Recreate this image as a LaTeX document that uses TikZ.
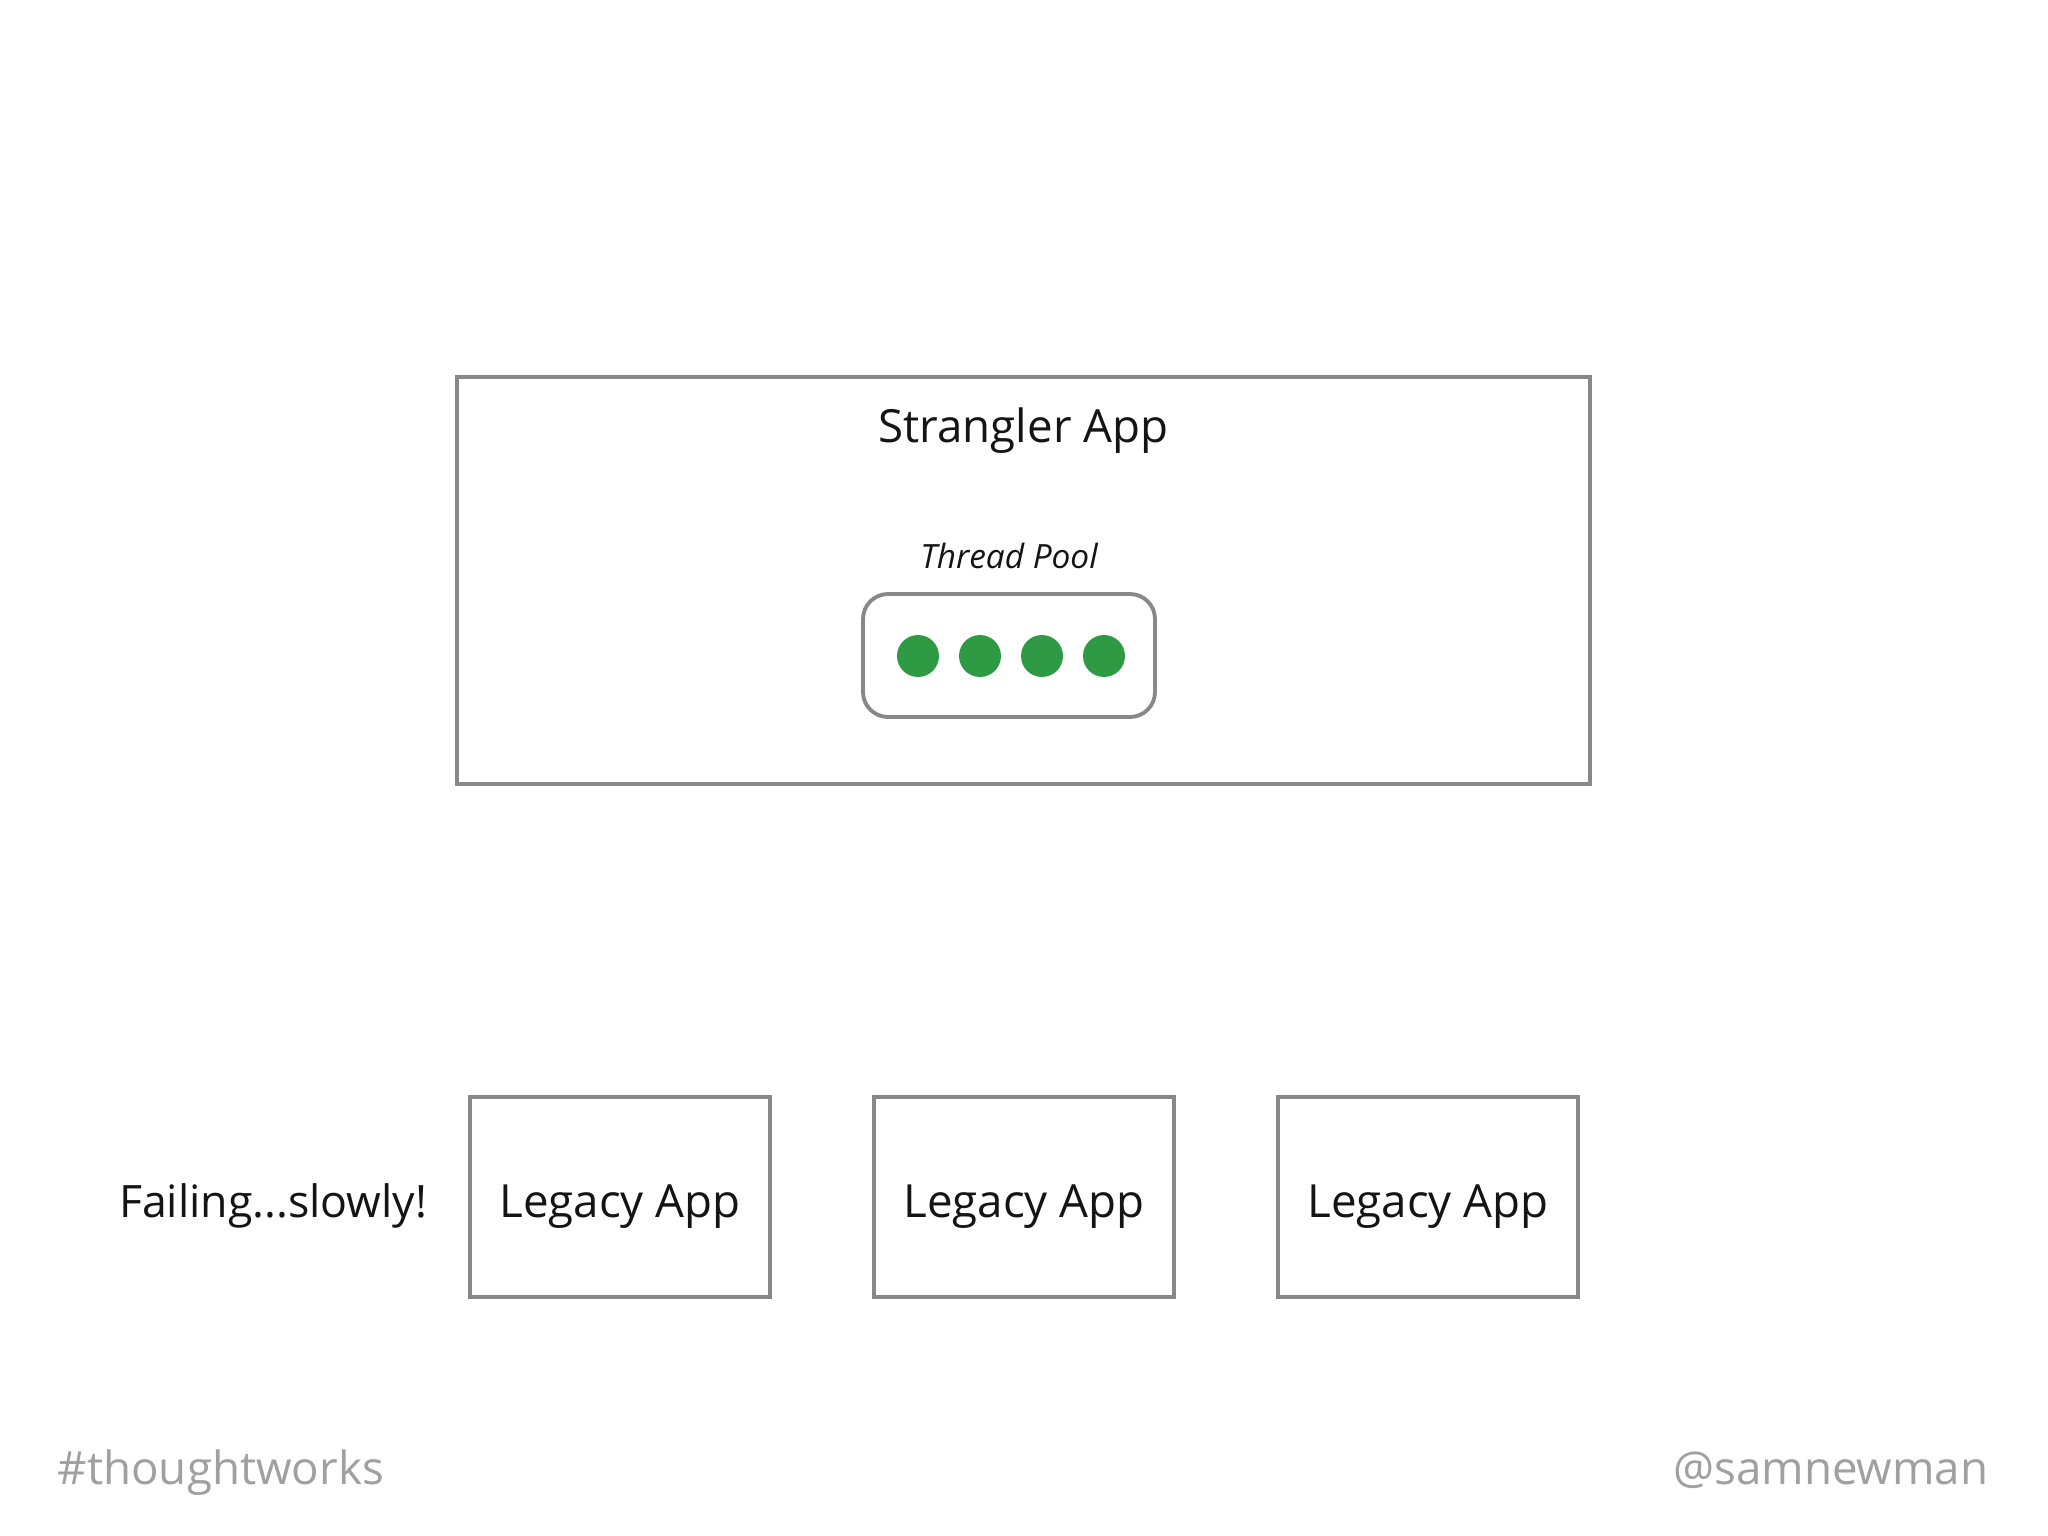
\documentclass[tikz,border=0pt]{standalone}
\usepackage{fontspec}
\setmainfont{Open Sans}
\usetikzlibrary{positioning}
\definecolor{boxgray}{RGB}{136,136,136}
\definecolor{footgray}{RGB}{160,160,160}
\definecolor{poolgreen}{RGB}{46,154,68}
\definecolor{inkblack}{RGB}{20,20,20}

\begin{document}
\begin{tikzpicture}[align=center,node distance=1cm]
\tikzstyle{app}=[rectangle,draw=boxgray,line width=1.1pt,inner sep=0pt,outer sep=0pt]
\tikzstyle{legacy}=[app,minimum width=3.0cm,minimum height=2cm,text=inkblack,font=\fontsize{13}{15}\selectfont,text height=11.4pt,text depth=0pt]
\tikzstyle{thread}=[circle,fill=poolgreen,minimum size=0.42cm,inner sep=0pt,outer sep=0pt]
\tikzstyle{slidetext}=[inner sep=0pt,text=inkblack,font=\fontsize{13}{15}\selectfont]

\fill[white] (0,0) rectangle (20.48,-15.36);
\useasboundingbox (0,0) rectangle (20.48,-15.36);

\node[app,minimum width=11.33cm,minimum height=4.07cm] (strangler) at (10.235,-5.805) {};
\node[slidetext] (stranglertitle) [below=0.3cm of strangler.north] {Strangler App};

\node[app,rounded corners=0.25cm,minimum width=2.92cm,minimum height=1.23cm] (pool) at (10.09,-6.555) {};
\node[slidetext,font=\fontsize{9.5}{11}\selectfont\itshape] (pooltitle) [above=0.24cm of pool] {Thread Pool};
\node[thread] (t1) at (9.18,-6.56) {};
\node[thread] (t2) [right=0.2cm of t1] {};
\node[thread] (t3) [right=0.2cm of t2] {};
\node[thread] (t4) [right=0.2cm of t3] {};

\node[legacy] (legacy1) at (6.2,-11.97) {Legacy App};
\node[legacy] (legacy2) [right=1.04cm of legacy1] {Legacy App};
\node[legacy] (legacy3) [right=1.04cm of legacy2] {Legacy App};
\node[slidetext,font=\fontsize{12.7}{15}\selectfont,text height=11.4pt,text depth=0pt] (failing) [left=0.42cm of legacy1] {Failing...slowly!};

\node[slidetext,text=footgray,anchor=base west] (hashtag) at (0.57,-14.84) {\#thoughtworks};
\node[slidetext,text=footgray,anchor=base east] (handle) at (19.89,-14.84) {@samnewman};
\end{tikzpicture}
\end{document}
